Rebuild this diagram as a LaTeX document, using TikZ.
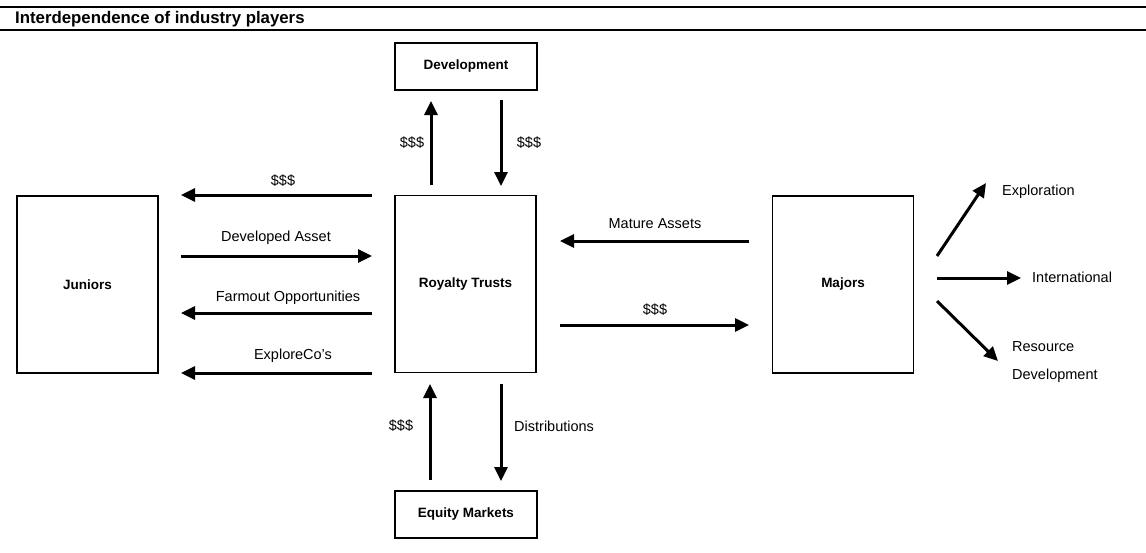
\documentclass[tikz,border=0pt]{standalone}
\usepackage{fontspec}
\setmainfont{Liberation Sans}
\usetikzlibrary{positioning}
\usetikzlibrary{arrows.meta}

\begin{document}
\begin{tikzpicture}[x=1pt, y=-1pt,
  every node/.style={inner sep=0pt, font=\fontsize{14.5}{17}\selectfont},
  box/.style={draw=black, line width=1.2pt, fill=white, font=\bfseries\fontsize{13.5}{16}\selectfont},
  bigbox/.style={box, minimum width=141pt, minimum height=177pt},
  smallbox/.style={box, minimum width=142pt, minimum height=47pt},
  arr/.style={line width=3pt, -{Triangle[length=14pt, width=13pt]}},
  rule/.style={line width=1.3pt}]
\useasboundingbox (0,0) rectangle (1146,552);
% title
\coordinate (r1) at (0,7);
\coordinate (r2) at (1146,7);
\coordinate (r3) at (0,30);
\coordinate (r4) at (1146,30);
\draw [rule] (r1) -- (r2);
\draw [rule] (r3) -- (r4);
\node (t) [anchor=base west, font=\bfseries\fontsize{16.8}{20}\selectfont] at (15,23) {Interdependence of industry players};
% boxes
\node (1) [bigbox] at (87.5, 284.5) {Juniors};
\node (2) [bigbox] at (465.5, 284) {Royalty Trusts};
\node (3) [bigbox] at (843, 284.5) {Majors};
\node (4) [smallbox] at (466, 66.5) {Development};
\node (5) [smallbox] at (466, 514.5) {Equity Markets};
% arrow ends
\coordinate (a1) at (372,195);
\coordinate (b1) at (181,195);
\coordinate (a2) at (181,256);
\coordinate (b2) at (372,256);
\coordinate (a3) at (372,313);
\coordinate (b3) at (181,313);
\coordinate (a4) at (372,373);
\coordinate (b4) at (181,373);
\coordinate (a5) at (431,185);
\coordinate (b5) at (431,101);
\coordinate (a6) at (501,100);
\coordinate (b6) at (501,186);
\coordinate (a7) at (749,241);
\coordinate (b7) at (560,241);
\coordinate (a8) at (560,325);
\coordinate (b8) at (749,325);
\coordinate (a9) at (430,480);
\coordinate (b9) at (430,384);
\coordinate (a10) at (501,384);
\coordinate (b10) at (501,481);
\coordinate (a11) at (937,256);
\coordinate (b11) at (986,183);
\coordinate (a12) at (937,278);
\coordinate (b12) at (1021,278);
\coordinate (a13) at (937,301);
\coordinate (b13) at (998,361);
\draw [arr] (a1) -- (b1);
\draw [arr] (a2) -- (b2);
\draw [arr] (a3) -- (b3);
\draw [arr] (a4) -- (b4);
\draw [arr] (a5) -- (b5);
\draw [arr] (a6) -- (b6);
\draw [arr] (a7) -- (b7);
\draw [arr] (a8) -- (b8);
\draw [arr] (a9) -- (b9);
\draw [arr] (a10) -- (b10);
\draw [arr] (a11) -- (b11);
\draw [arr] (a12) -- (b12);
\draw [arr] (a13) -- (b13);
% labels
\node (l1) at (283,181) {\$\$\$};
\node (l2) at (276,238) {Developed Asset};
\node (l3) at (288,298) {Farmout Opportunities};
\node (l4) at (293,356) {ExploreCo’s};
\node (l5) at (412,143) {\$\$\$};
\node (l6) at (529,143) {\$\$\$};
\node (l7) at (655,224) {Mature Assets};
\node (l8) at (655,310) {\$\$\$};
\node (l9) at (401,426) {\$\$\$};
\node (l10) [anchor=west] at (514,426) {Distributions};
\node (l11) [anchor=west] at (1002,192) {Exploration};
\node (l12) [anchor=west] at (1032,277) {International};
\node (l13) [anchor=north west, align=left, font=\fontsize{14.5}{28}\selectfont] at (1012,341) {Resource\\Development};
\end{tikzpicture}
\end{document}
